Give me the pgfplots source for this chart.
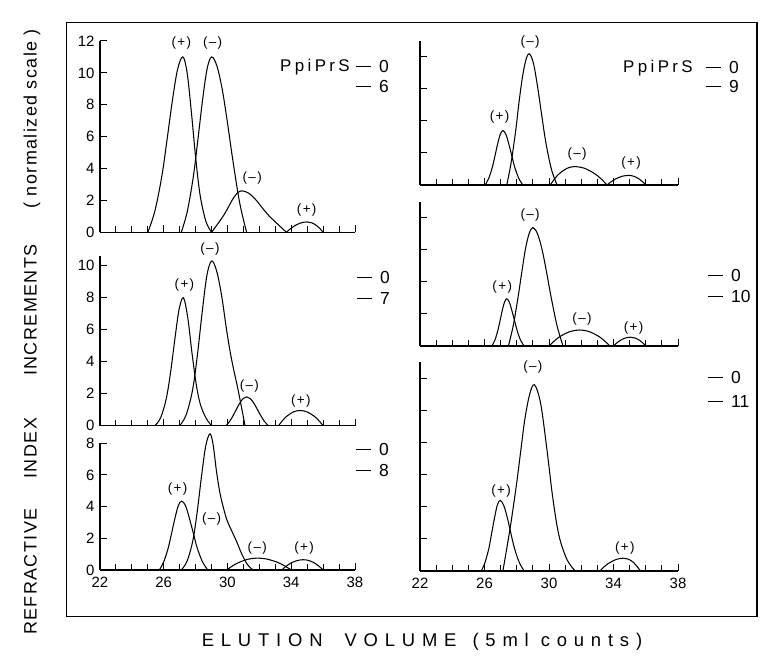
\documentclass[border=0pt]{standalone}
\usepackage{fontspec}
\setmainfont{Liberation Sans}
\newfontfamily\xlsp[LetterSpace=37, Ligatures=TeX]{Liberation Sans}
\newfontfamily\ylsp[LetterSpace=8, Ligatures=TeX]{Liberation Sans}
\newfontfamily\plsp[LetterSpace=20, Ligatures=TeX]{Liberation Sans}
\newfontfamily\labf[LetterSpace=10, Ligatures=TeX]{Liberation Sans}
\usepackage{pgfplots}
\pgfplotsset{compat=1.18}
\pgfplotsset{
 panel/.style={scale only axis, anchor=south west, xmin=22, xmax=38, ymin=0,
  enlargelimits=false, clip=false, axis x line=bottom, axis y line=left,
  axis line style={-, line width=1.3bp, black}, tick align=inside,
  major tick length=7bp, minor tick length=6bp,
  every tick/.style={black, line width=1bp},
  xtick={22,26,30,34,38}, minor xtick={22,23,...,38}, xticklabels={},
  tick label style={font=\fontsize{15}{15}\selectfont},
  xticklabel style={yshift=-4bp},
  yticklabel style={xshift=-2bp},
  /pgf/number format/assume math mode=true},
 xlab/.style={xticklabels={22,26,30,34,38}},
}
\newcommand\pk[1]{\addplot[black, line width=1.05bp, smooth, tension=0.55, mark=none] coordinates {#1};}
\tikzset{pl/.style={font=\fontsize{13.5}{13.5}\selectfont\labf, inner sep=0pt}}
\newcommand\mn{(\textendash)}
\newcommand\dl[1]{\rule[0.32em]{15bp}{1.3bp}\hspace{8bp}#1}
\tikzset{sl/.style={anchor=west, inner sep=0pt, font=\fontsize{17.5}{17.5}\selectfont}}
\begin{document}
\begin{tikzpicture}
\useasboundingbox (0,0) rectangle (771bp,662bp);
\draw[line width=1.2bp] (66.7bp,45.3bp) rectangle (757bp,639.3bp);

% left top
\begin{axis}[panel, at={(100bp,429.7bp)}, width=255bp, height=191.3bp, ymax=12, ytick={0,2,...,12}]
\pk{(25.0,0) (25.44,1.32) (25.88,3.52) (26.21,5.83) (26.54,8.25) (26.87,10.23) (27.2,11) (27.47,9.99) (27.74,7.47) (28.01,4.61) (28.28,2.34) (28.64,0.70) (29.0,0)}
\pk{(27.1,0) (27.48,1.32) (27.86,3.52) (28.145,5.83) (28.43,8.25) (28.715,10.23) (29.0,11) (29.33,10.45) (29.66,9.02) (29.99,6.93) (30.32,4.62) (30.76,1.87) (31.2,0)}
\pk{(29.0,0) (29.38,0.52) (29.76,1.06) (30.045,1.56) (30.33,2.08) (30.615,2.46) (30.9,2.6) (31.32,2.46) (31.74,2.08) (32.16,1.56) (32.58,1.06) (33.14,0.52) (33.7,0)}
\pk{(33.7,0) (33.96,0.234) (34.22,0.416) (34.61,0.59) (35.0,0.65) (35.3,0.59) (35.6,0.416) (35.8,0.234) (36.0,0)}
\node[pl] at (axis cs:27.1,11.9) {(+)};
\node[pl] at (axis cs:29.07,11.9) {\mn};
\node[pl] at (axis cs:31.55,3.4) {\mn};
\node[pl] at (axis cs:34.97,1.4) {(+)};
\end{axis}

% left middle
\begin{axis}[panel, at={(100bp,236.3bp)}, width=255bp, height=169.6bp, ymax=10.6, ytick={0,2,...,10}]
\pk{(25.45,0) (25.81,0.51) (26.16,1.70) (26.43,3.35) (26.70,5.43) (26.96,7.26) (27.23,8) (27.50,6.8) (27.76,4.64) (28.03,2.64) (28.29,1.36) (28.65,0.48) (29.0,0)}
\pk{(27.0,0) (27.4,0.66) (27.8,2.19) (28.1,4.32) (28.4,6.99) (28.7,9.35) (29.0,10.3) (29.315,9.68) (29.63,8.14) (29.945,5.97) (30.26,4.12) (30.68,2.16) (31.1,0)}
\pk{(29.9,0) (30.16,0.306) (30.42,0.756) (30.615,1.134) (30.81,1.476) (31.005,1.71) (31.2,1.8) (31.404,1.71) (31.608,1.476) (31.812,1.134) (32.016,0.756) (32.288,0.306) (32.56,0)}
\pk{(33.2,0) (33.47,0.342) (33.74,0.608) (34.145,0.865) (34.55,0.95) (34.985,0.865) (35.42,0.608) (35.71,0.342) (36.0,0)}
\node[pl] at (axis cs:28.9,11.05) {\mn};
\node[pl] at (axis cs:27.3,8.8) {(+)};
\node[pl] at (axis cs:31.37,2.5) {\mn};
\node[pl] at (axis cs:34.6,1.55) {(+)};
\end{axis}

% left bottom
\begin{axis}[panel, xlab, at={(100bp,92bp)}, width=255bp, height=126.7bp, ymax=8, ytick={0,2,...,8}]
\pk{(25.72,0) (26.0,0.52) (26.28,1.39) (26.49,2.31) (26.70,3.26) (26.91,4.05) (27.12,4.35) (27.37,4.05) (27.61,3.26) (27.86,2.31) (28.10,1.39) (28.43,0.52) (28.76,0)}
\pk{(27.1,0) (27.46,0.55) (27.82,1.83) (28.09,3.60) (28.36,5.84) (28.63,7.81) (28.9,8.6) (29.1,7.9) (29.3,6.3) (29.5,5.0) (29.7,4.1) (29.95,3.2) (30.25,2.5) (30.57,1.8) (30.9,1.0) (31.25,0.35) (31.6,0)}
\pk{(29.95,0) (30.33,0.27) (30.72,0.48) (31.29,0.68) (31.87,0.75) (32.51,0.68) (33.15,0.48) (33.57,0.27) (34.0,0)}
\pk{(33.4,0) (33.67,0.234) (33.94,0.416) (34.35,0.59) (34.76,0.65) (35.13,0.59) (35.5,0.416) (35.75,0.234) (36.0,0)}
\node[pl] at (axis cs:26.87,5.1) {(+)};
\node[pl] at (axis cs:29.0,3.2) {\mn};
\node[pl] at (axis cs:31.87,1.37) {\mn};
\node[pl] at (axis cs:34.8,1.37) {(+)};
\end{axis}

% right top
\begin{axis}[panel, at={(420bp,477bp)}, width=258bp, height=144bp, ymax=9, ytick={2,4,6,8}, yticklabels={}]
\pk{(26.04,0) (26.26,0.41) (26.48,1.09) (26.645,1.80) (26.81,2.55) (26.975,3.16) (27.14,3.4) (27.33,3.16) (27.51,2.55) (27.70,1.80) (27.88,1.09) (28.13,0.41) (28.38,0)}
\pk{(27.38,0) (27.65,1.39) (27.94,3.44) (28.14,5.17) (28.35,6.72) (28.56,7.79) (28.77,8.2) (29.03,7.63) (29.29,6.15) (29.55,4.35) (29.81,2.62) (30.15,0.98) (30.5,0)}
\pk{(30.07,0) (30.37,0.414) (30.67,0.736) (31.13,1.047) (31.58,1.15) (32.19,1.047) (32.79,0.736) (33.2,0.414) (33.6,0)}
\pk{(33.6,0) (33.87,0.216) (34.14,0.384) (34.54,0.546) (34.94,0.6) (35.26,0.546) (35.58,0.384) (35.79,0.216) (36.0,0)}
\node[pl] at (axis cs:28.83,8.96) {\mn};
\node[pl] at (axis cs:26.93,4.27) {(+)};
\node[pl] at (axis cs:31.74,1.94) {\mn};
\node[pl] at (axis cs:35.09,1.4) {(+)};
\end{axis}

% right middle
\begin{axis}[panel, at={(420bp,316bp)}, width=258bp, height=144bp, ymax=9, ytick={2,4,6,8}, yticklabels={}]
\pk{(26.45,0) (26.64,0.354) (26.82,0.944) (26.96,1.56) (27.10,2.21) (27.24,2.74) (27.38,2.95) (27.54,2.74) (27.70,2.21) (27.87,1.56) (28.03,0.944) (28.24,0.354) (28.46,0)}
\pk{(27.48,0) (27.78,1.26) (28.09,3.11) (28.32,4.66) (28.54,6.07) (28.77,7.03) (29.0,7.4) (29.28,7.03) (29.56,6.07) (29.84,4.66) (30.12,3.11) (30.5,1.26) (30.87,0)}
\pk{(30.0,0) (30.38,0.36) (30.76,0.64) (31.33,0.91) (31.9,1.0) (32.46,0.91) (33.02,0.64) (33.4,0.36) (33.77,0)}
\pk{(34.0,0) (34.21,0.198) (34.42,0.352) (34.74,0.50) (35.05,0.55) (35.34,0.50) (35.62,0.352) (35.81,0.198) (36.0,0)}
\node[pl] at (axis cs:28.83,8.2) {\mn};
\node[pl] at (axis cs:27.1,3.7) {(+)};
\node[pl] at (axis cs:32.05,1.67) {\mn};
\node[pl] at (axis cs:35.25,1.14) {(+)};
\end{axis}

% right bottom
\begin{axis}[panel, xlab, at={(420bp,91bp)}, width=258bp, height=208.7bp, ymax=13, ytick={2,4,...,12}, yticklabels={}]
\pk{(25.8,0) (26.03,0.528) (26.27,1.408) (26.44,2.33) (26.62,3.30) (26.79,4.09) (26.97,4.4) (27.19,4.09) (27.42,3.30) (27.64,2.33) (27.86,1.408) (28.16,0.528) (28.46,0)}
\pk{(27.14,0) (27.57,2.55) (27.96,5.22) (28.24,7.42) (28.51,9.51) (28.81,11.04) (29.1,11.6) (29.48,10.44) (29.86,7.66) (30.24,4.52) (30.62,2.20) (31.12,0.70) (31.63,0)}
\pk{(33.15,0) (33.45,0.288) (33.75,0.512) (34.19,0.728) (34.64,0.8) (34.95,0.728) (35.26,0.512) (35.46,0.288) (35.67,0)}
\node[pl] at (axis cs:29.0,12.7) {\mn};
\node[pl] at (axis cs:27.03,5.0) {(+)};
\node[pl] at (axis cs:34.7,1.41) {(+)};
\end{axis}

% side labels
\node[anchor=east, inner sep=0pt, font=\fontsize{17}{17}\selectfont\plsp] at (350bp,595.3bp) {PpiPrS};
\node[sl] at (356bp,595.3bp) {\dl{0}};
\node[sl] at (356bp,575.3bp) {\dl{6}};
\node[sl] at (357bp,384bp) {\dl{0}};
\node[sl] at (357bp,363bp) {\dl{7}};
\node[sl] at (356bp,212bp) {\dl{0}};
\node[sl] at (356bp,191bp) {\dl{8}};
\node[anchor=east, inner sep=0pt, font=\fontsize{17}{17}\selectfont\plsp] at (693bp,594bp) {PpiPrS};
\node[sl] at (706bp,594bp) {\dl{0}};
\node[sl] at (706bp,575.3bp) {\dl{9}};
\node[sl] at (708bp,386bp) {\dl{0}};
\node[sl] at (708bp,365bp) {\dl{10}};
\node[sl] at (708bp,284bp) {\dl{0}};
\node[sl] at (708bp,260bp) {\dl{11}};

% axis titles
\node[inner sep=0pt, font=\fontsize{18.5}{18.5}\selectfont\xlsp] at (422bp,20.3bp) {ELUTION\hspace{22bp}VOLUME\hspace{16bp}(5ml\hspace{12bp}counts)};
\node[rotate=90, inner sep=0pt, font=\fontsize{18}{18}\selectfont\ylsp] at (32bp,330bp) {REFRACTIVE\hspace{30bp}INDEX\hspace{42bp}INCREMENTS\hspace{36bp}( normalized scale )};
\end{tikzpicture}
\end{document}
